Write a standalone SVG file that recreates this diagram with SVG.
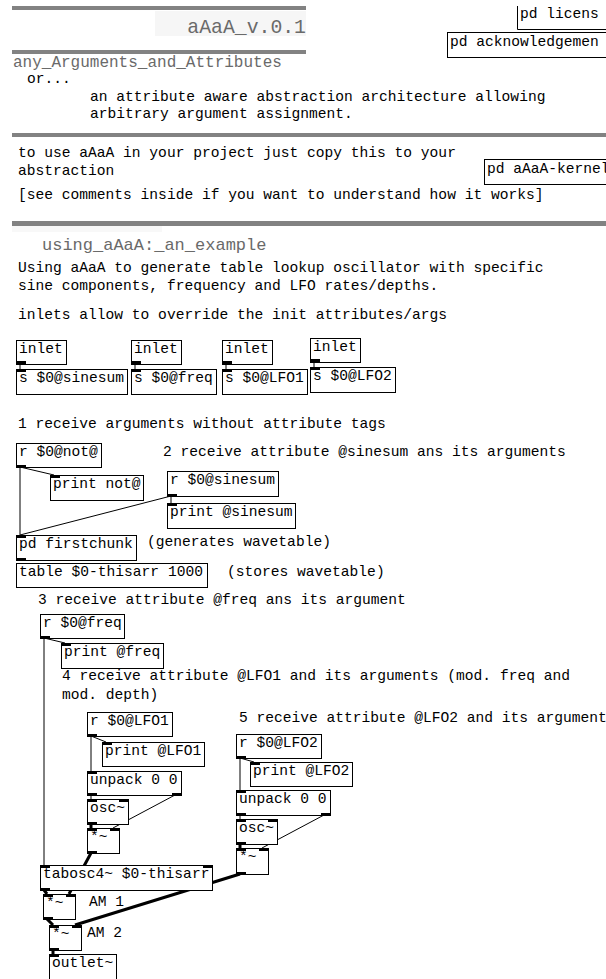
<svg xmlns="http://www.w3.org/2000/svg" width="606" height="979" viewBox="0 0 606 979">
<style>
text{font-family:"Liberation Mono","Courier New",monospace;font-size:14.6px;fill:#000}
.h{fill:#6a6a6a}
.box{fill:#fff;stroke:#000;stroke-width:1}
.nub{fill:#000}
.bar{fill:#828282}
.c{stroke:#000;stroke-width:1;fill:none}
.s{stroke:#000;stroke-width:3;fill:none}
</style>
<rect width="606" height="979" fill="#fff"/>
<g id="header">
<rect class="bar" x="12" y="6" width="294" height="4"/>
<rect x="155" y="11" width="151" height="25" fill="#f6f6f6"/>
<text class="h" x="306" y="33" text-anchor="end" style="font-size:19.8px">aAaA_v.0.1</text>
<rect class="bar" x="12" y="50" width="294" height="4"/>
<text class="h" x="13" y="67" style="font-size:16px">any_Arguments_and_Attributes</text>
<text x="27" y="83">or...</text>
<text x="90" y="101">an attribute aware abstraction architecture allowing</text>
<text x="90" y="118">arbitrary argument assignment.</text>
<rect class="bar" x="12" y="133" width="594" height="4"/>
<text x="18" y="157">to use aAaA in your project just copy this to your</text>
<text x="18" y="175">abstraction</text>
<text x="18" y="199">[see comments inside if you want to understand how it works]</text>
<rect class="bar" x="12" y="221" width="594" height="5"/>
<rect x="12" y="226" width="150" height="6" fill="#f8f8f8"/>
<text class="h" x="42" y="250" style="font-size:17px">using_aAaA:_an_example</text>
<text x="18" y="272">Using aAaA to generate table lookup oscillator with specific</text>
<text x="18" y="290">sine components, frequency and LFO rates/depths.</text>
<text x="18" y="319">inlets allow to override the init attributes/args</text>
<text x="18" y="428">1 receive arguments without attribute tags</text>
<text x="163" y="456">2 receive attribute @sinesum ans its arguments</text>
<text x="147" y="546">(generates wavetable)</text>
<text x="227" y="576">(stores wavetable)</text>
<text x="38" y="604">3 receive attribute @freq ans its argument</text>
<text x="62" y="680">4 receive attribute @LFO1 and its arguments (mod. freq and</text>
<text x="62" y="699">mod. depth)</text>
<text x="239" y="722">5 receive attribute @LFO2 and its arguments</text>
<text x="89" y="906">AM 1</text>
<text x="87" y="937">AM 2</text>
</g>
<g id="pd-licens"><path class="c" d="M517.5,6 V29.5 H606"/><text x="520" y="18">pd licens</text></g>
<g id="pd-ack"><rect class="box" x="447.5" y="32.5" width="170" height="25"/><text x="450" y="46">pd acknowledgemen</text></g>
<g id="pd-kernel"><rect class="box" x="484.5" y="159.5" width="130" height="25"/><text x="487" y="173">pd aAaA-kernel</text></g>

<g id="connectors">
<path class="c" d="M20,364V369M135,364V369M226,364V369M314,362V367"/>
<path class="c" d="M20,467L54,475M20,467V535M171,496V503M171,496L20,535"/>
<path class="c" d="M44,638L65,643M44,638V865"/>
<path class="c" d="M91,736L106,742M91,736V771M91,795V799M175,795L113,828"/>
<path class="c" d="M240,758L254,762M240,758V790M240,815V819M324,815L262,848"/>
<path class="s" d="M91,824V828M240,844V848M91,853L69,894M44,890L47,894M240,874L75,925M47,919L53,925M53,950V954"/>
</g>

<g id="inlet1"><rect class="box" x="16.5" y="340.5" width="50" height="24"/><rect class="nub" x="16" y="361" width="10" height="3"/><text x="19" y="353">inlet</text></g>
<g id="send-sinesum"><rect class="box" x="16.5" y="369.5" width="111" height="25"/><rect class="nub" x="16" y="369" width="10" height="3"/><text x="19" y="382">s $0@sinesum</text></g>
<g id="inlet2"><rect class="box" x="131.5" y="340.5" width="50" height="24"/><rect class="nub" x="131" y="361" width="10" height="3"/><text x="134" y="353">inlet</text></g>
<g id="send-freq"><rect class="box" x="131.5" y="369.5" width="85" height="25"/><rect class="nub" x="131" y="369" width="10" height="3"/><text x="134" y="382">s $0@freq</text></g>
<g id="inlet3"><rect class="box" x="222.5" y="340.5" width="50" height="24"/><rect class="nub" x="222" y="361" width="10" height="3"/><text x="225" y="353">inlet</text></g>
<g id="send-lfo1"><rect class="box" x="222.5" y="369.5" width="85" height="25"/><rect class="nub" x="222" y="369" width="10" height="3"/><text x="225" y="382">s $0@LFO1</text></g>
<g id="inlet4"><rect class="box" x="310.5" y="338.5" width="50" height="24"/><rect class="nub" x="310" y="359" width="10" height="3"/><text x="313" y="351">inlet</text></g>
<g id="send-lfo2"><rect class="box" x="310.5" y="367.5" width="85" height="25"/><rect class="nub" x="310" y="367" width="10" height="3"/><text x="313" y="380">s $0@LFO2</text></g>

<g id="r-not"><rect class="box" x="16.5" y="443.5" width="85" height="24"/><rect class="nub" x="16" y="465" width="10" height="3"/><text x="19" y="456">r $0@not@</text></g>
<g id="print-not"><rect class="box" x="50.5" y="475.5" width="93" height="25"/><rect class="nub" x="50" y="475" width="10" height="3"/><text x="53" y="488">print not@</text></g>
<g id="r-sinesum"><rect class="box" x="167.5" y="471.5" width="111" height="25"/><rect class="nub" x="167" y="494" width="10" height="3"/><text x="170" y="484">r $0@sinesum</text></g>
<g id="print-sinesum"><rect class="box" x="167.5" y="503.5" width="128" height="25"/><rect class="nub" x="167" y="503" width="10" height="3"/><text x="170" y="516">print @sinesum</text></g>
<g id="pd-firstchunk"><rect class="box" x="16.5" y="535.5" width="120" height="25"/><rect class="nub" x="16" y="535" width="10" height="3"/><rect class="nub" x="16" y="558" width="10" height="3"/><text x="19" y="548">pd firstchunk</text></g>
<g id="table"><rect class="box" x="16.5" y="563.5" width="191" height="24"/><text x="19" y="576">table $0-thisarr 1000</text></g>

<g id="r-freq"><rect class="box" x="40.5" y="614.5" width="84" height="24"/><rect class="nub" x="40" y="636" width="10" height="3"/><text x="43" y="627">r $0@freq</text></g>
<g id="print-freq"><rect class="box" x="61.5" y="643.5" width="102" height="25"/><rect class="nub" x="61" y="643" width="10" height="3"/><text x="64" y="656">print @freq</text></g>
<g id="r-lfo1"><rect class="box" x="87.5" y="712.5" width="85" height="24"/><rect class="nub" x="87" y="734" width="10" height="3"/><text x="90" y="725">r $0@LFO1</text></g>
<g id="print-lfo1"><rect class="box" x="102.5" y="742.5" width="102" height="24"/><rect class="nub" x="102" y="742" width="10" height="3"/><text x="105" y="755">print @LFO1</text></g>
<g id="unpack1"><rect class="box" x="87.5" y="771.5" width="94" height="24"/><rect class="nub" x="87" y="771" width="10" height="3"/><rect class="nub" x="87" y="793" width="10" height="3"/><rect class="nub" x="172" y="793" width="10" height="3"/><text x="90" y="784">unpack 0 0</text></g>
<g id="osc1"><rect class="box" x="87.5" y="799.5" width="41" height="25"/><rect class="nub" x="87" y="799" width="10" height="3"/><rect class="nub" x="119" y="799" width="10" height="3"/><rect class="nub" x="87" y="822" width="10" height="3"/><text x="90" y="812">osc~</text></g>
<g id="mul1"><rect class="box" x="87.5" y="828.5" width="32" height="25"/><rect class="nub" x="87" y="828" width="10" height="3"/><rect class="nub" x="110" y="828" width="10" height="3"/><rect class="nub" x="87" y="851" width="10" height="3"/><text x="90" y="841">*~</text></g>
<g id="r-lfo2"><rect class="box" x="236.5" y="734.5" width="85" height="24"/><rect class="nub" x="236" y="756" width="10" height="3"/><text x="239" y="747">r $0@LFO2</text></g>
<g id="print-lfo2"><rect class="box" x="250.5" y="762.5" width="102" height="24"/><rect class="nub" x="250" y="762" width="10" height="3"/><text x="253" y="775">print @LFO2</text></g>
<g id="unpack2"><rect class="box" x="236.5" y="790.5" width="94" height="25"/><rect class="nub" x="236" y="790" width="10" height="3"/><rect class="nub" x="236" y="813" width="10" height="3"/><rect class="nub" x="321" y="813" width="10" height="3"/><text x="239" y="803">unpack 0 0</text></g>
<g id="osc2"><rect class="box" x="236.5" y="819.5" width="41" height="25"/><rect class="nub" x="236" y="819" width="10" height="3"/><rect class="nub" x="268" y="819" width="10" height="3"/><rect class="nub" x="236" y="842" width="10" height="3"/><text x="239" y="832">osc~</text></g>
<g id="mul2"><rect class="box" x="236.5" y="848.5" width="32" height="26"/><rect class="nub" x="236" y="848" width="10" height="3"/><rect class="nub" x="259" y="848" width="10" height="3"/><rect class="nub" x="236" y="872" width="10" height="3"/><text x="239" y="861">*~</text></g>
<g id="tabosc"><rect class="box" x="40.5" y="865.5" width="172" height="25"/><rect class="nub" x="40" y="865" width="10" height="3"/><rect class="nub" x="203" y="865" width="10" height="3"/><rect class="nub" x="40" y="888" width="10" height="3"/><text x="43" y="878">tabosc4~ $0-thisarr</text></g>
<g id="am1"><rect class="box" x="43.5" y="894.5" width="32" height="25"/><rect class="nub" x="43" y="894" width="10" height="3"/><rect class="nub" x="66" y="894" width="10" height="3"/><rect class="nub" x="43" y="917" width="10" height="3"/><text x="46" y="907">*~</text></g>
<g id="am2"><rect class="box" x="49.5" y="925.5" width="32" height="25"/><rect class="nub" x="49" y="925" width="10" height="3"/><rect class="nub" x="72" y="925" width="10" height="3"/><rect class="nub" x="49" y="948" width="10" height="3"/><text x="52" y="938">*~</text></g>
<g id="outlet"><rect class="box" x="49.5" y="954.5" width="67" height="25"/><rect class="nub" x="49" y="954" width="10" height="3"/><text x="52" y="967">outlet~</text></g>
</svg>
